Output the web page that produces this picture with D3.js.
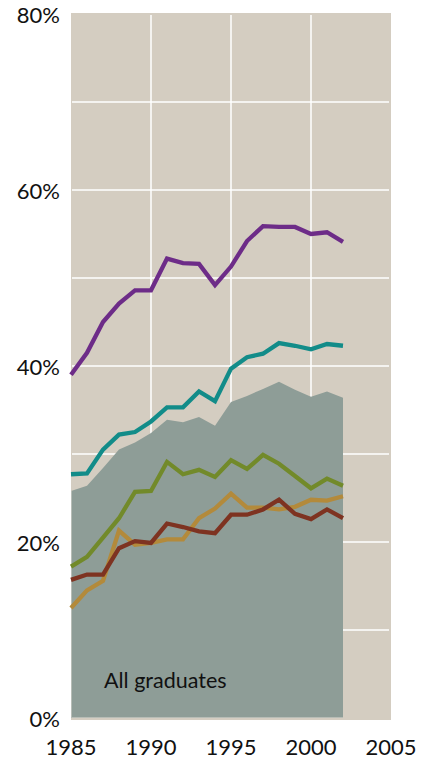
<!DOCTYPE html>
<html>
<head>
<meta charset="utf-8">
<script src="https://cdn.jsdelivr.net/npm/d3@7"></script>
<style>
  body { margin: 0; background: #fff; }
  text { font-family: Lato, "Open Sans", sans-serif; fill: #111; }
</style>
</head>
<body>
<div class="chart"></div>
<script>
// Data
const years = d3.range(1985, 2003);
const allGraduates = [25.8, 26.4, 28.4, 30.5, 31.3, 32.4, 33.9, 33.6, 34.2, 33.2, 35.9, 36.6, 37.4, 38.2, 37.3, 36.5, 37.1, 36.4];
const purple = [39.0, 41.5, 45.0, 47.1, 48.6, 48.6, 52.2, 51.7, 51.6, 49.2, 51.3, 54.2, 55.9, 55.8, 55.8, 55.0, 55.2, 54.1];
const teal = [27.7, 27.8, 30.5, 32.2, 32.5, 33.7, 35.3, 35.3, 37.1, 36.0, 39.7, 41.0, 41.4, 42.6, 42.3, 41.9, 42.5, 42.3];
const green = [17.2, 18.3, 20.5, 22.7, 25.7, 25.8, 29.1, 27.7, 28.2, 27.4, 29.3, 28.3, 29.9, 28.9, 27.5, 26.1, 27.2, 26.4];
const gold = [12.5, 14.5, 15.6, 21.3, 19.7, 19.9, 20.3, 20.3, 22.7, 23.8, 25.5, 23.9, 23.9, 23.7, 24.0, 24.8, 24.7, 25.2];
const red = [15.7, 16.3, 16.3, 19.3, 20.1, 19.9, 22.1, 21.7, 21.2, 21.0, 23.1, 23.1, 23.7, 24.8, 23.2, 22.6, 23.7, 22.7];

const yTicks = [0, 20, 40, 60, 80];
const yGrid = [10, 20, 30, 40, 50, 60, 70];
const xTicks = [1985, 1990, 1995, 2000, 2005];
const xGrid = [1990, 1995, 2000];

const series = [
  { values: purple, color: '#6d2c88' },
  { values: teal, color: '#128c89' },
  { values: green, color: '#728a2a' },
  { values: gold, color: '#b38a3b' },
  { values: red, color: '#7e3321' }
];

// Setup
const width = 430, height = 759;
const plotLeft = 71, plotRight = 391, plotTop = 14, plotBottom = 718;

const x = d3.scaleLinear().domain([1985, 2005]).range([plotLeft, plotRight]);
const y = d3.scaleLinear().domain([0, 80]).range([plotBottom, plotTop]);

const svg = d3.select('.chart')
  .append('svg')
  .attr('width', width)
  .attr('height', height);

// background
svg.append('rect')
  .attr('x', plotLeft)
  .attr('y', plotTop - 1)
  .attr('width', plotRight - plotLeft)
  .attr('height', plotBottom - plotTop + 3)
  .attr('fill', '#d4cdc1');

// grid
svg.append('g')
  .selectAll('line')
  .data(yGrid)
  .enter()
  .append('line')
  .attr('x1', plotLeft + 1)
  .attr('x2', plotRight - 2)
  .attr('y1', d => y(d))
  .attr('y2', d => y(d))
  .attr('stroke', '#fff')
  .attr('stroke-width', 1.5);

svg.append('g')
  .selectAll('line')
  .data(xGrid)
  .enter()
  .append('line')
  .attr('x1', d => x(d))
  .attr('x2', d => x(d))
  .attr('y1', plotTop + 1)
  .attr('y2', plotBottom)
  .attr('stroke', '#fff')
  .attr('stroke-width', 1.5);

// area for all graduates
const area = d3.area()
  .x((d, i) => x(years[i]))
  .y0(y(0))
  .y1(d => y(d));

svg.append('path')
  .datum(allGraduates)
  .attr('d', area)
  .attr('fill', '#8e9d97');

// faint axis lines
svg.append('line')
  .attr('x1', plotLeft)
  .attr('x2', x(2002))
  .attr('y1', plotBottom - 0.5)
  .attr('y2', plotBottom - 0.5)
  .attr('stroke', '#b7bdb6')
  .attr('stroke-width', 1);

svg.append('line')
  .attr('x1', plotLeft + 0.5)
  .attr('x2', plotLeft + 0.5)
  .attr('y1', y(allGraduates[0]))
  .attr('y2', plotBottom)
  .attr('stroke', '#b7bdb6')
  .attr('stroke-width', 1);

// lines
const line = d3.line()
  .x((d, i) => x(years[i]))
  .y(d => y(d));

svg.append('g')
  .selectAll('path')
  .data(series)
  .enter()
  .append('path')
  .attr('d', d => line(d.values))
  .attr('fill', 'none')
  .attr('stroke', d => d.color)
  .attr('stroke-width', 4.3)
  .attr('stroke-linejoin', 'miter');

// label
svg.append('text')
  .attr('x', 104)
  .attr('y', 688)
  .attr('font-size', 21.5)
  .text('All graduates');

// axis labels
svg.append('g')
  .selectAll('text')
  .data(yTicks)
  .enter()
  .append('text')
  .attr('x', 60)
  .attr('y', d => y(d) + 9)
  .attr('text-anchor', 'end')
  .attr('font-size', 22)
  .text(d => d + '%');

svg.append('g')
  .selectAll('text')
  .data(xTicks)
  .enter()
  .append('text')
  .attr('x', d => x(d))
  .attr('y', 755)
  .attr('text-anchor', 'middle')
  .attr('font-size', 22)
  .text(d => d);
</script>
</body>
</html>
